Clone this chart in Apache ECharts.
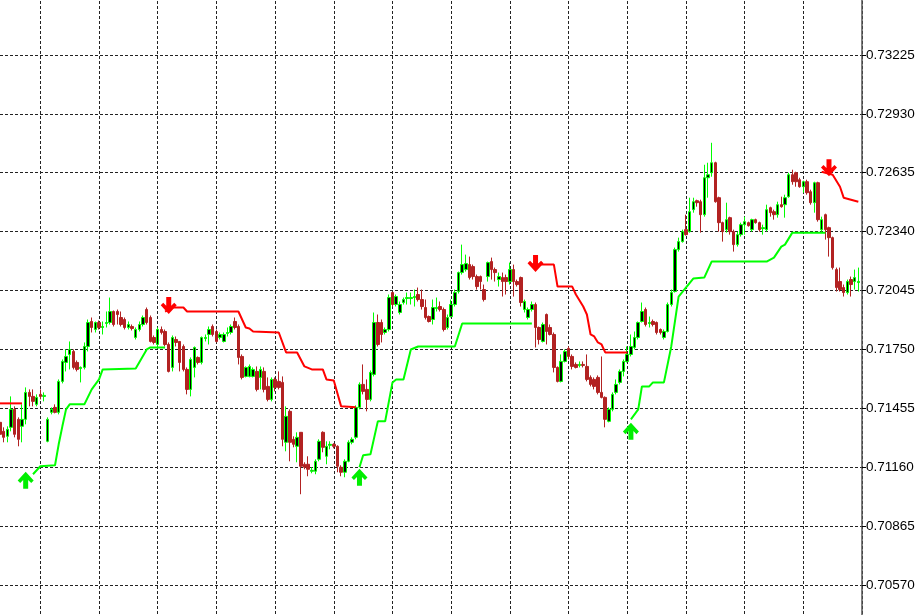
<!DOCTYPE html>
<html>
<head>
<meta charset="utf-8">
<script src="https://cdn.jsdelivr.net/npm/echarts@6/dist/echarts.min.js"></script>
<style>
html,body{margin:0;padding:0;background:#fff;}
#chart{width:922px;height:615px;}
</style>
</head>
<body>
<div id="chart"></div>
<script>
// ---------- DATA ----------
const opens = [
0.71385,0.71340,0.71315,0.71360,0.71450,0.71400,0.71365,0.71400,0.71535,0.71515,
0.71475,0.71525,0.71515,0.71290,0.71435,0.71460,0.71435,0.71590,0.71685,0.71725,
0.71740,0.71685,0.71655,0.71660,0.71765,0.71890,0.71850,0.71885,0.71860,0.71880,
0.71885,0.71940,0.71940,0.71910,0.71900,0.71860,0.71865,0.71810,0.71850,0.71875,
0.71950,0.71910,0.71810,0.71775,0.71850,0.71840,0.71775,0.71660,0.71800,0.71790,
0.71765,0.71650,0.71550,0.71660,0.71710,0.71685,0.71805,0.71825,0.71865,0.71840,
0.71810,0.71790,0.71830,0.71835,0.71890,0.71865,0.71715,0.71615,0.71615,0.71615,
0.71640,0.71610,0.71640,0.71565,0.71500,0.71600,0.71590,0.71585,0.71285,0.71440,
0.71300,0.71265,0.71335,0.71175,0.71175,0.71140,0.71140,0.71200,0.71335,0.71215,
0.71270,0.71275,0.71265,0.71160,0.71135,0.71190,0.71285,0.71310,0.71460,0.71575,
0.71550,0.71500,0.71625,0.71885,0.71885,0.71835,0.71850,0.72035,0.71975,0.71935,
0.71985,0.72005,0.72005,0.72010,0.72025,0.72000,0.71960,0.71915,0.71900,0.71955,
0.71965,0.71950,0.71860,0.71915,0.71975,0.72040,0.72135,0.72150,0.72175,0.72165,
0.72115,0.72115,0.72050,0.72115,0.72190,0.72150,0.72100,0.72110,0.72110,0.72090,
0.72150,0.72090,0.72110,0.71950,0.71910,0.71950,0.71975,0.71860,0.71790,0.71925,
0.71860,0.71825,0.71660,0.71590,0.71690,0.71755,0.71715,0.71675,0.71670,0.71675,
0.71665,0.71610,0.71600,0.71610,0.71535,0.71510,0.71390,0.71450,0.71535,0.71585,
0.71640,0.71690,0.71725,0.71760,0.71810,0.71890,0.71950,0.71880,0.71890,0.71885,
0.71850,0.71810,0.71840,0.71975,0.72040,0.72250,0.72290,0.72350,0.72340,0.72450,
0.72495,0.72490,0.72425,0.72610,0.72635,0.72685,0.72510,0.72385,0.72350,0.72410,
0.72340,0.72275,0.72325,0.72375,0.72385,0.72350,0.72400,0.72385,0.72355,0.72350,
0.72460,0.72440,0.72425,0.72475,0.72475,0.72515,0.72625,0.72635,0.72600,0.72565,
0.72590,0.72540,0.72485,0.72585,0.72350,0.72425,0.72360,0.72310,0.72150,0.72090,
0.72060,0.72035,0.72100,0.72090,0.72085
];
const closes = [
0.71325,0.71310,0.71350,0.71450,0.71325,0.71300,0.71400,0.71535,0.71515,0.71490,
0.71510,0.71515,0.71520,0.71400,0.71450,0.71435,0.71590,0.71690,0.71715,0.71750,
0.71660,0.71650,0.71660,0.71765,0.71885,0.71860,0.71885,0.71860,0.71865,0.71885,
0.71940,0.71875,0.71925,0.71875,0.71860,0.71875,0.71855,0.71850,0.71875,0.71910,
0.71885,0.71790,0.71785,0.71850,0.71835,0.71775,0.71640,0.71810,0.71785,0.71685,
0.71650,0.71550,0.71700,0.71760,0.71685,0.71810,0.71810,0.71850,0.71825,0.71790,
0.71825,0.71825,0.71835,0.71865,0.71860,0.71710,0.71610,0.71660,0.71665,0.71650,
0.71550,0.71650,0.71550,0.71500,0.71600,0.71560,0.71560,0.71300,0.71415,0.71285,
0.71275,0.71310,0.71165,0.71160,0.71150,0.71145,0.71190,0.71290,0.71260,0.71265,
0.71275,0.71265,0.71165,0.71135,0.71190,0.71285,0.71300,0.71460,0.71575,0.71540,
0.71500,0.71635,0.71885,0.71775,0.71825,0.71850,0.72010,0.71975,0.72015,0.71975,
0.72000,0.72010,0.72010,0.72015,0.72000,0.71965,0.71910,0.71890,0.71960,0.71960,
0.71950,0.71850,0.71910,0.71975,0.72035,0.72135,0.72175,0.72180,0.72110,0.72115,
0.72065,0.72090,0.72000,0.72185,0.72150,0.72135,0.72115,0.72090,0.72090,0.72150,
0.72090,0.72075,0.71985,0.71990,0.71950,0.71975,0.71860,0.71800,0.71875,0.71840,
0.71825,0.71660,0.71590,0.71690,0.71740,0.71715,0.71665,0.71660,0.71675,0.71670,
0.71600,0.71575,0.71565,0.71535,0.71510,0.71400,0.71450,0.71525,0.71575,0.71640,
0.71690,0.71725,0.71765,0.71810,0.71885,0.71940,0.71875,0.71885,0.71875,0.71835,
0.71835,0.71840,0.71975,0.72035,0.72250,0.72290,0.72340,0.72325,0.72440,0.72490,
0.72485,0.72425,0.72610,0.72625,0.72685,0.72490,0.72385,0.72340,0.72400,0.72340,
0.72275,0.72325,0.72375,0.72390,0.72370,0.72400,0.72385,0.72350,0.72360,0.72450,
0.72435,0.72425,0.72475,0.72465,0.72510,0.72625,0.72590,0.72590,0.72565,0.72590,
0.72535,0.72485,0.72585,0.72400,0.72400,0.72350,0.72310,0.72160,0.72060,0.72050,
0.72035,0.72090,0.72075,0.72110,0.72090
];
const lows = [
0.71300,0.71285,0.71285,0.71340,0.71310,0.71265,0.71285,0.71375,0.71465,0.71465,
0.71465,0.71500,0.71490,0.71285,0.71425,0.71430,0.71425,0.71580,0.71640,0.71650,
0.71650,0.71640,0.71585,0.71650,0.71740,0.71835,0.71835,0.71850,0.71825,0.71860,
0.71875,0.71865,0.71875,0.71865,0.71850,0.71850,0.71845,0.71800,0.71840,0.71865,
0.71875,0.71785,0.71775,0.71765,0.71825,0.71765,0.71635,0.71640,0.71765,0.71640,
0.71640,0.71525,0.71515,0.71610,0.71675,0.71675,0.71790,0.71775,0.71815,0.71785,
0.71800,0.71785,0.71815,0.71825,0.71850,0.71675,0.71600,0.71610,0.71610,0.71610,
0.71540,0.71550,0.71535,0.71490,0.71490,0.71540,0.71550,0.71265,0.71240,0.71190,
0.71260,0.71185,0.71025,0.71150,0.71115,0.71130,0.71125,0.71190,0.71235,0.71175,
0.71250,0.71255,0.71135,0.71115,0.71110,0.71185,0.71275,0.71300,0.71450,0.71525,
0.71440,0.71490,0.71615,0.71765,0.71785,0.71825,0.71840,0.71965,0.71965,0.71925,
0.71975,0.71975,0.71975,0.71965,0.71990,0.71950,0.71900,0.71885,0.71875,0.71940,
0.71940,0.71840,0.71850,0.71910,0.71965,0.72030,0.72125,0.72140,0.72100,0.72100,
0.72050,0.72050,0.71990,0.72090,0.72100,0.72090,0.72065,0.72015,0.72025,0.72075,
0.72015,0.72065,0.71965,0.71935,0.71900,0.71940,0.71760,0.71775,0.71785,0.71775,
0.71820,0.71635,0.71585,0.71585,0.71685,0.71700,0.71650,0.71655,0.71660,0.71660,
0.71590,0.71565,0.71550,0.71525,0.71505,0.71360,0.71385,0.71440,0.71525,0.71575,
0.71615,0.71685,0.71715,0.71750,0.71800,0.71885,0.71865,0.71860,0.71865,0.71825,
0.71825,0.71800,0.71835,0.71965,0.72035,0.72240,0.72285,0.72320,0.72335,0.72435,
0.72465,0.72335,0.72415,0.72510,0.72615,0.72485,0.72340,0.72290,0.72335,0.72325,
0.72240,0.72265,0.72315,0.72325,0.72365,0.72340,0.72380,0.72340,0.72325,0.72340,
0.72415,0.72400,0.72410,0.72460,0.72410,0.72510,0.72575,0.72565,0.72560,0.72535,
0.72525,0.72475,0.72435,0.72390,0.72340,0.72300,0.72215,0.72150,0.72040,0.72040,
0.72015,0.72025,0.72015,0.72050,0.72040
];
const highs = [
0.71400,0.71360,0.71365,0.71515,0.71465,0.71410,0.71475,0.71560,0.71550,0.71550,
0.71525,0.71550,0.71535,0.71410,0.71460,0.71475,0.71600,0.71700,0.71750,0.71790,
0.71750,0.71695,0.71665,0.71785,0.71900,0.71910,0.71890,0.71895,0.71890,0.71940,
0.72010,0.71945,0.71950,0.71940,0.71910,0.71890,0.71875,0.71860,0.71890,0.71920,
0.71960,0.71920,0.71820,0.71860,0.71865,0.71850,0.71785,0.71820,0.71815,0.71790,
0.71775,0.71660,0.71710,0.71765,0.71715,0.71815,0.71825,0.71865,0.71875,0.71850,
0.71835,0.71835,0.71860,0.71875,0.71910,0.71875,0.71725,0.71665,0.71675,0.71660,
0.71665,0.71665,0.71660,0.71610,0.71610,0.71610,0.71640,0.71615,0.71465,0.71450,
0.71315,0.71335,0.71335,0.71185,0.71215,0.71160,0.71200,0.71300,0.71340,0.71290,
0.71290,0.71280,0.71270,0.71170,0.71200,0.71295,0.71310,0.71470,0.71585,0.71675,
0.71600,0.71645,0.71935,0.71925,0.71900,0.71860,0.72025,0.72040,0.72025,0.71990,
0.72010,0.72035,0.72035,0.72050,0.72060,0.72050,0.72000,0.71920,0.72000,0.72010,
0.71990,0.71960,0.71925,0.72000,0.72050,0.72140,0.72275,0.72225,0.72215,0.72175,
0.72125,0.72120,0.72075,0.72190,0.72210,0.72160,0.72135,0.72135,0.72125,0.72185,
0.72175,0.72100,0.72115,0.72000,0.71960,0.71990,0.71985,0.71865,0.71885,0.71930,
0.71875,0.71835,0.71665,0.71725,0.71750,0.71765,0.71725,0.71685,0.71690,0.71690,
0.71725,0.71620,0.71610,0.71620,0.71715,0.71515,0.71460,0.71535,0.71600,0.71650,
0.71700,0.71765,0.71825,0.71840,0.71890,0.71985,0.71960,0.71915,0.71900,0.71890,
0.71855,0.71850,0.71985,0.72050,0.72260,0.72310,0.72350,0.72425,0.72510,0.72510,
0.72500,0.72500,0.72675,0.72685,0.72785,0.72690,0.72515,0.72390,0.72485,0.72415,
0.72350,0.72340,0.72385,0.72415,0.72390,0.72405,0.72405,0.72390,0.72375,0.72475,
0.72465,0.72450,0.72490,0.72515,0.72525,0.72635,0.72650,0.72640,0.72610,0.72595,
0.72600,0.72550,0.72590,0.72590,0.72415,0.72430,0.72365,0.72315,0.72160,0.72160,
0.72075,0.72100,0.72115,0.72150,0.72160
];

// trailing-stop segments: [barIndex, price]
const redStop1 = [[0,0.71480],[6,0.71480]];
const redStop2 = [[45,0.71940],[47,0.71960],[50,0.71960],[51,0.71940],[65,0.71940],[67,0.71860],[68,0.71855],[69,0.71840],[76,0.71835],[78,0.71735],[81,0.71735],[83,0.71665],[85,0.71650],[88,0.71650],[89,0.71600],[91,0.71595],[93,0.71465],[97,0.71460]];
const redStop3 = [[145,0.72175],[151,0.72175],[152,0.72065],[156,0.72065],[157,0.72025],[159,0.71965],[160,0.71925],[161,0.71825],[162,0.71815],[163,0.71785],[164,0.71775],[165,0.71735],[171,0.71735]];
const redStop4 = [[224,0.72640],[227,0.72625],[229,0.72565],[230,0.72510],[232,0.72500],[234,0.72490]];
const greenStop1 = [[9,0.71125],[11,0.71165],[15,0.71170],[16,0.71275],[17,0.71365],[18,0.71450],[19,0.71475],[23,0.71475],[25,0.71550],[27,0.71600],[28,0.71650],[37,0.71655],[40,0.71750],[41,0.71760],[45,0.71760]];
const greenStop2 = [[98,0.71160],[99,0.71220],[101,0.71225],[103,0.71390],[105,0.71390],[107,0.71585],[108,0.71600],[110,0.71600],[112,0.71750],[114,0.71765],[124,0.71765],[126,0.71880],[145,0.71880]];
const greenStop3 = [[172,0.71400],[174,0.71450],[175,0.71565],[177,0.71565],[178,0.71585],[181,0.71585],[183,0.71765],[185,0.72015],[187,0.72060],[189,0.72105],[192,0.72110],[194,0.72190],[209,0.72190],[211,0.72210],[213,0.72265],[214,0.72275],[216,0.72335],[225,0.72335]];

// signal arrows
const sellArrows = [[46,0.71970],[146,0.72180],[226,0.72660]];
const buyArrows = [[7,0.71095],[98,0.71110],[172,0.71340]];

// price axis
const priceMin = 0.70275, priceMax = 0.73520, priceStep = 0.00295;
const barSlots = 236;

// ---------- CHART ----------
const categories = Array.from({length: barSlots}, (_, i) => String(i));
const candles = opens.map((o, i) => [o, closes[i], lows[i], highs[i]]);
const arrowPath = 'path://M5,0 L10,0 L10,8.5 L13,5.5 L15.5,8 L7.5,16.5 L-0.5,8 L2,5.5 L5,8.5 Z';

const chart = echarts.init(document.getElementById('chart'), null, {renderer: 'canvas'});

function stopSeries(data, color) {
  return {type: 'line', data: data, symbol: 'none', animation: false, z: 3,
          lineStyle: {color: color, width: 2}, silent: true};
}

chart.setOption({
  animation: false,
  backgroundColor: '#ffffff',
  grid: {left: 0, right: 60, top: -4, bottom: -29, containLabel: false, outerBoundsMode: 'none'},
  xAxis: {
    type: 'category', data: categories, boundaryGap: false,
    axisLine: {show: false}, axisTick: {show: false}, axisLabel: {show: false},
    splitLine: {show: true, interval: (idx) => (idx - 11) % 16 === 0,
      lineStyle: {color: '#222', width: 1, type: [3, 2]}}
  },
  yAxis: {
    type: 'value', position: 'right', min: priceMin, max: priceMax, interval: priceStep,
    axisLine: {show: true, lineStyle: {color: '#555', width: 1.5}},
    axisTick: {show: true, length: 4, lineStyle: {color: '#000'}},
    axisLabel: {color: '#000', fontFamily: 'Liberation Sans', fontSize: 13.5, margin: 4,
      showMaxLabel: true, showMinLabel: true,
      formatter: (v) => v.toFixed(5)},
    splitLine: {show: true, lineStyle: {color: '#222', width: 1, type: [3, 2]}}
  },
  series: [
    {type: 'candlestick', data: candles, barWidth: 3, z: 2,
     itemStyle: {color: '#000000', color0: '#b22222', borderColor: '#00ff00',
                 borderColor0: '#b22222', borderWidth: 1}},
    stopSeries(redStop1, '#ff0000'),
    stopSeries(redStop2, '#ff0000'),
    stopSeries(redStop3, '#ff0000'),
    stopSeries(redStop4, '#ff0000'),
    stopSeries(greenStop1, '#00ff00'),
    stopSeries(greenStop2, '#00ff00'),
    stopSeries(greenStop3, '#00ff00'),
    {type: 'scatter', data: sellArrows, symbol: arrowPath, symbolSize: [16, 17], z: 4,
     itemStyle: {color: '#ff0000', opacity: 1}},
    {type: 'scatter', data: buyArrows, symbol: arrowPath, symbolSize: [16, 17], symbolRotate: 180, z: 4,
     itemStyle: {color: '#00ee00', opacity: 1}}
  ]
});
</script>
</body>
</html>
